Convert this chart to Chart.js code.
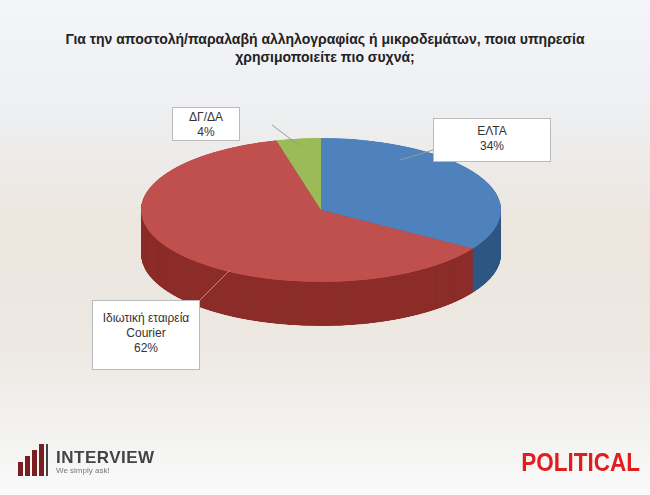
<!DOCTYPE html>
<html>
<head>
<meta charset="utf-8">
<script src="https://cdn.jsdelivr.net/npm/chart.js@4"></script>
<style>
  body { margin: 0; }
  #page {
    position: relative; width: 650px; height: 495px; overflow: hidden;
    font-family: "Liberation Sans", Arial, sans-serif;
    background: linear-gradient(#f3f5f8 0%, #eef0f3 20%, #ece6df 45%, #ede8e2 70%, #f2f1ef 85%, #fafafa 100%);
  }
  #title { position: absolute; left: 0; width: 650px; top: 30px; text-align: center;
    font-size: 14px; font-weight: bold; color: #222; line-height: 18px; }
  #pieWrap { position: absolute; left: 141px; top: 138px; width: 360px; height: 480px;
    transform: scaleY(0.4); transform-origin: 0 0; }
  .lbl { position: absolute; background: #fff; border: 1px solid #bbb; text-align: center;
    font-size: 12px; color: #333; line-height: 15px; padding: 5px 4px; box-sizing: border-box; }
  #lines { position: absolute; left: 0; top: 0; }
  #logo { position: absolute; left: 56px; top: 448px; font-size: 17px; font-weight: bold; color: #444; letter-spacing: 0.5px; }
  #logo small { display: block; font-size: 8px; font-weight: normal; color: #777; letter-spacing: 0; margin-top: -2px; }
  #political { position: absolute; right: 10px; top: 448px; font-size: 25px; font-weight: bold; color: #e11d1d; transform: scaleX(0.9); transform-origin: right; }
</style>
</head>
<body>
<div id="page">
  <div id="title">Για την αποστολή/παραλαβή αλληλογραφίας ή μικροδεμάτων, ποια υπηρεσία<br>χρησιμοποιείτε πιο συχνά;</div>
  <div id="pieWrap"><canvas id="pie"></canvas></div>
  <svg id="lines" width="650" height="495">
    <line x1="433" y1="150" x2="400" y2="160" stroke="#999" stroke-width="1"/>
    <line x1="272" y1="125" x2="300" y2="146" stroke="#999" stroke-width="1"/>
    <line x1="200" y1="300" x2="230" y2="270" stroke="#999" stroke-width="1"/>
    <g fill="#7a1e22">
      <rect x="18" y="462" width="5" height="14"/><rect x="25" y="456" width="5" height="20"/>
      <rect x="32" y="450" width="5" height="26"/><rect x="39" y="444" width="5" height="32"/>
    </g>
    <rect x="46" y="444" width="2" height="32" fill="#444"/>
  </svg>
  <div class="lbl" style="left:433px;top:118px;width:118px;height:44px;">ΕΛΤΑ<br>34%</div>
  <div class="lbl" style="left:172px;top:107px;width:68px;height:34px;padding-top:2px;">ΔΓ/ΔΑ<br>4%</div>
  <div class="lbl" style="left:92px;top:300px;width:108px;height:70px;padding-top:10px;">Ιδιωτική εταιρεία<br>Courier<br>62%</div>
  <div id="logo">INTERVIEW<small>We simply ask!</small></div>
  <div id="political">POLITICAL</div>
</div>
<script>
const categories = ["ΕΛΤΑ", "Ιδιωτική εταιρεία Courier", "ΔΓ/ΔΑ"];
const shares = [34, 62, 4];
const topColors = ["#4f81bd", "#c0504d", "#9bbb59"];
const sideColors = ["#2f5783", "#8c2d2a", "#6b8a3a"];

// draws the side of the 3D pie, stacked below the top face
const depthPlugin = {
  id: "depth",
  beforeDatasetsDraw(chart) {
    const ctx = chart.ctx;
    const arcs = chart.getDatasetMeta(0).data;
    for (let i = 110; i >= 1; i--) {
      arcs.forEach((a, j) => {
        ctx.beginPath();
        ctx.moveTo(a.x, a.y + i);
        ctx.arc(a.x, a.y + i, a.outerRadius, a.startAngle, a.endAngle);
        ctx.closePath();
        ctx.fillStyle = sideColors[j];
        ctx.fill();
      });
    }
  }
};

new Chart(document.getElementById("pie"), {
  type: "pie",
  data: {
    labels: categories,
    datasets: [{ data: shares, backgroundColor: topColors, borderWidth: 0 }]
  },
  options: {
    responsive: true,
    maintainAspectRatio: false,
    animation: false,
    layout: { padding: { bottom: 120 } },
    plugins: { legend: { display: false }, tooltip: { enabled: false } }
  },
  plugins: [depthPlugin]
});
</script>
</body>
</html>
